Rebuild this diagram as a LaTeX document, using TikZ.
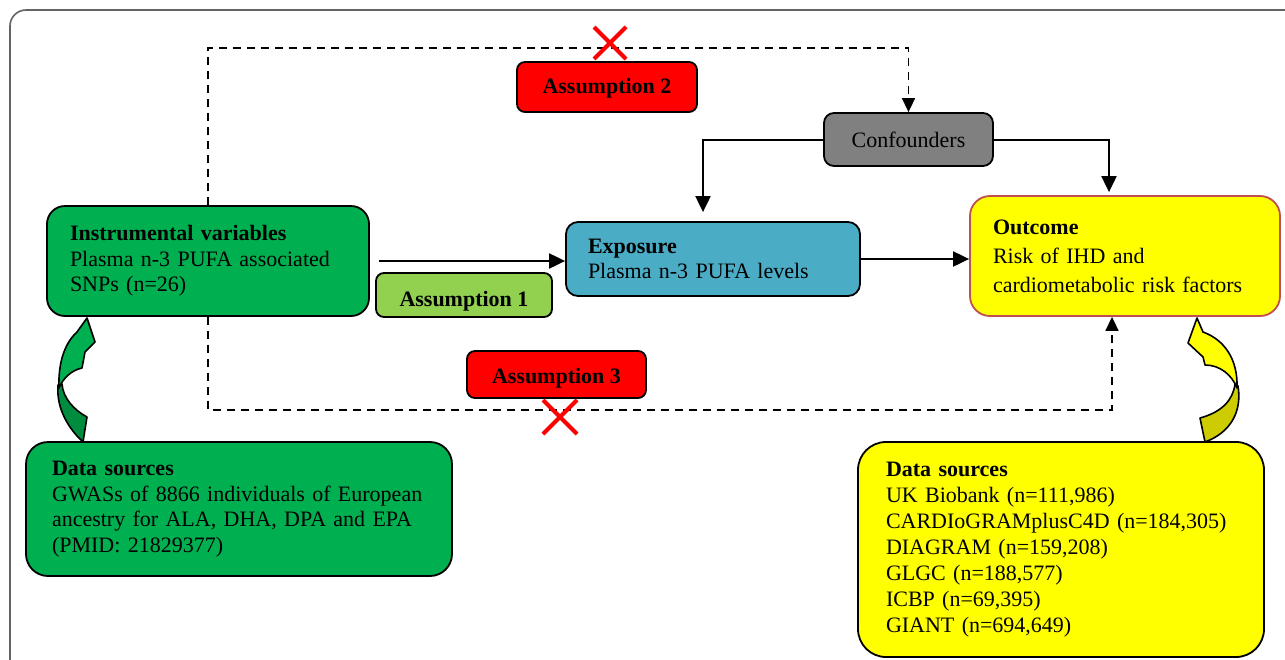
\documentclass[tikz,border=0pt]{standalone}
\usepackage{fontspec}
\setmainfont{Liberation Serif}
\usetikzlibrary{arrows.meta}
\definecolor{boxgreen}{RGB}{0,176,80}
\definecolor{darkgreen}{RGB}{0,140,62}
\definecolor{lightgreen}{RGB}{146,208,80}
\definecolor{expblue}{RGB}{75,172,198}
\definecolor{outred}{RGB}{192,80,77}
\definecolor{confgray}{RGB}{128,128,128}
\definecolor{darkyellow}{RGB}{204,204,0}
\definecolor{pureyellow}{RGB}{255,255,0}
\definecolor{framegray}{RGB}{100,100,100}
\begin{document}
\begin{tikzpicture}[x=0.5pt,y=-0.5pt,
  box/.style={draw=black, line width=0.9pt, rounded corners=#1, align=left,
    inner ysep=0pt, font=\fontsize{11}{12.75}\selectfont},
  box/.default=6pt,
  lab/.style={draw=black, line width=0.9pt, rounded corners=4pt, align=center,
    inner sep=0pt, font=\fontsize{11}{13}\selectfont\bfseries},
  arr/.style={line width=1pt, -{Triangle[length=8pt,width=7.5pt]}},
  dsh/.style={line width=0.8pt, dash pattern=on 4pt off 3pt, -{Triangle[length=7pt,width=6.5pt]}},
  cross/.style={draw=red, line width=2pt},
  curv/.style={draw=black, line width=0.8pt, line join=round}]
\useasboundingbox (0,0) rectangle (1285,659);
\clip (0,0) rectangle (1285,659);
\fill[white] (0,0) rectangle (1285,659);
% frame
\draw[framegray, line width=0.8pt, rounded corners=8pt] (10,10) rectangle (1330,700);

% main nodes
\node[box=9pt, fill=boxgreen, minimum width=161pt, minimum height=55pt,
  text width=138pt, inner xsep=11.5pt] (inst) at (208,261)
  {\textbf{Instrumental variables}\\Plasma n-3 PUFA associated\\SNPs (n=26)};
\node[box=6pt, fill=expblue, minimum width=147pt, minimum height=37pt,
  text width=125pt, inner xsep=11pt] (exp) at (713,259)
  {\textbf{Exposure}\\Plasma n-3 PUFA levels};
\node[box=10pt, draw=outred, fill=pureyellow, minimum width=155pt, minimum height=60pt,
  text width=132pt, inner xsep=11.5pt, font=\fontsize{11}{14.5}\selectfont] (out) at (1125,256)
  {\textbf{Outcome}\\Risk of IHD and\\cardiometabolic risk factors};
\node[box=5pt, fill=confgray, minimum width=84.5pt, minimum height=26.5pt,
  align=center] (conf) at (908.5,139.5) {Confounders};
\node[box=11pt, fill=boxgreen, minimum width=213pt, minimum height=67pt,
  text width=187pt, inner xsep=13pt] (dsL) at (239,509)
  {\textbf{Data sources}\\GWASs of 8866 individuals of European\\ancestry for ALA, DHA, DPA and EPA\\(PMID: 21829377)};
\node[box=14pt, fill=pureyellow, minimum width=201pt, minimum height=107.5pt,
  text width=175pt, inner xsep=14pt, font=\fontsize{11}{13}\selectfont] (dsR) at (1061,549.5)
  {\textbf{Data sources}\\UK Biobank (n=111,986)\\CARDIoGRAMplusC4D (n=184,305)\\DIAGRAM (n=159,208)\\GLGC (n=188,577)\\ICBP (n=69,395)\\GIANT (n=694,649)};

% assumption labels
\node[lab, fill=red, minimum width=90pt, text height=15.5pt, text depth=9.5pt] (a2) at (607,87) {Assumption 2};
\node[lab, fill=lightgreen, minimum width=88pt, text height=16.5pt, text depth=5.5pt] (a1) at (464,295) {Assumption 1};
\node[lab, fill=red, minimum width=89.5pt, text height=16pt, text depth=7.5pt] (a3) at (556.5,374.5) {Assumption 3};

% solid arrows
\draw[arr, shorten <=4.5pt] (inst.east) -- (inst.east -| exp.west);
\draw[arr] (exp.east) -- (exp.east -| out.west);
\draw[arr, shorten >=4.5pt] (conf.west) -| ([xshift=-5pt]exp.north);
\draw[arr, shorten >=1.5pt] (conf.east) -| ([xshift=-8pt]out.north);

% dashed arrows
\coordinate (topY) at (0,48);
\coordinate (botY) at (0,410);
\draw[dsh] (inst.north) |- (conf.north |- topY) -- (conf.north);
\draw[dsh] (inst.south) |- ([xshift=-6.5pt]out.south |- botY) -- ([xshift=-6.5pt]out.south);

% crosses
\draw[cross] (594,27) -- (626,59) (626,27) -- (594,59);
\draw[cross] (543,400) -- (577,434) (577,400) -- (543,434);

% left curved arrow
\filldraw[curv, fill=darkgreen] (58,385) .. controls (56,410) and (70,430) .. (83,442)
  -- (87,417) .. controls (74,410) and (63,398) .. (62,384) -- cycle;
\filldraw[curv, fill=boxgreen] (59,388) .. controls (58,360) and (66,342) .. (77,332)
  -- (87,318) -- (95,342) -- (85,352) -- (82,368)
  .. controls (72,370) and (63,378) .. (59,388) -- cycle;

% right curved arrow
\filldraw[curv, fill=darkyellow] (1238,386) .. controls (1242,410) and (1232,432) .. (1205,442)
  -- (1200,418) .. controls (1222,412) and (1233,400) .. (1235,384) -- cycle;
\filldraw[curv, fill=pureyellow] (1237,388) .. controls (1238,360) and (1225,340) .. (1203,332)
  -- (1197,318) -- (1188,343) -- (1203,357) -- (1205,365)
  .. controls (1220,365) and (1232,375) .. (1237,388) -- cycle;
\end{tikzpicture}
\end{document}
